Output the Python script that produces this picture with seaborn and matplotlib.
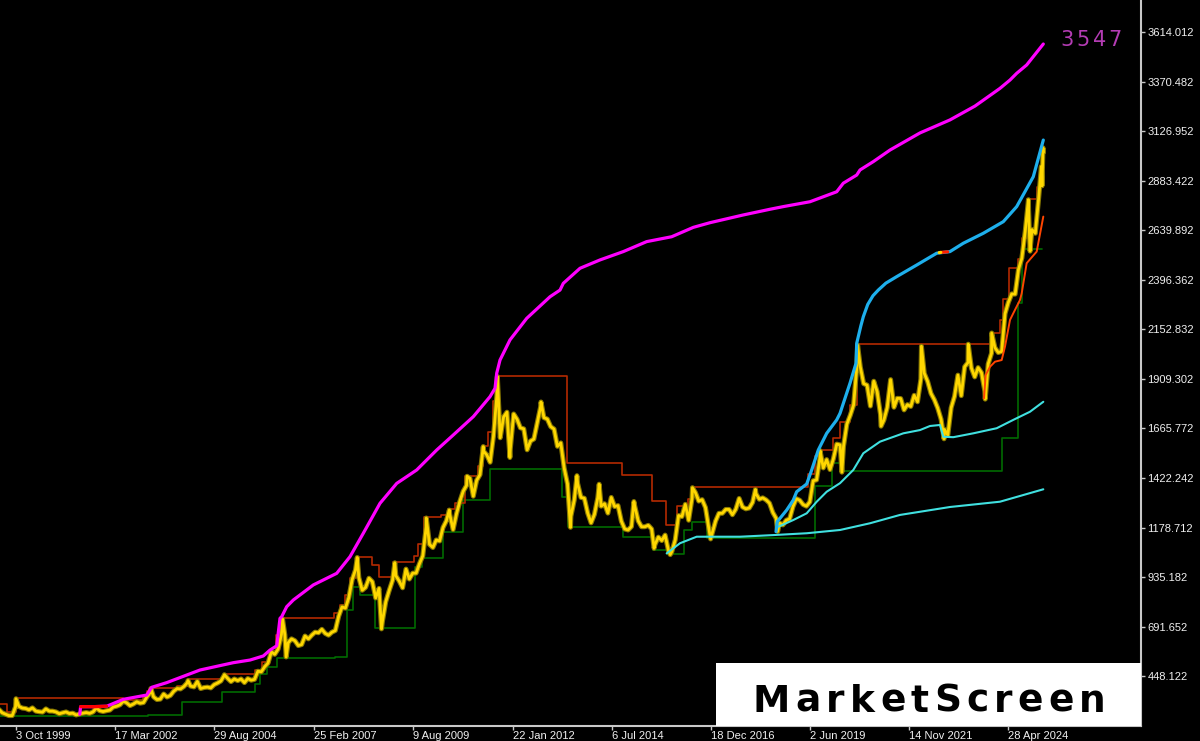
import numpy as np
import pandas as pd
import matplotlib
matplotlib.use("Agg")
import matplotlib.pyplot as plt
import seaborn as sns
from matplotlib.patches import Rectangle

# ---------------- data (decimal years / price) ----------------
# month-end closes of the yellow price series
close_years = list(range(1999, 2026))
first_month = {1999: 4}
closes = {
    1999: [286, 269, 262, 255, 255, 299, 300, 292, 290],
    2000: [283, 293, 277, 274, 272, 288, 277, 277, 273, 264, 269, 273],
    2001: [265, 267, 258, 263, 267, 270, 266, 273, 293, 279, 275, 279],
    2002: [282, 297, 301, 308, 326, 318, 304, 312, 323, 316, 319, 347],
    2003: [368, 347, 334, 336, 361, 346, 354, 375, 388, 386, 398, 416],
    2004: [400, 396, 423, 388, 393, 395, 391, 407, 415, 425, 453, 438],
    2005: [422, 435, 427, 435, 417, 437, 429, 433, 473, 470, 495, 513],
    2006: [568, 556, 582, 654, 653, 613, 632, 623, 599, 604, 646, 632],
    2007: [650, 665, 662, 679, 659, 650, 665, 673, 743, 789, 783, 834],
    2008: [923, 971, 933, 871, 885, 930, 913, 833, 880, 718, 815, 869],
    2009: [919, 942, 916, 883, 975, 926, 955, 955, 1001, 1040, 1182, 1096],
    2010: [1081, 1118, 1113, 1179, 1212, 1244, 1169, 1246, 1307, 1357, 1386, 1421],
    2011: [1333, 1411, 1439, 1556, 1536, 1500, 1628, 1826, 1620, 1722, 1746, 1565],
    2012: [1737, 1711, 1669, 1664, 1561, 1604, 1614, 1692, 1772, 1719, 1712, 1675],
    2013: [1663, 1578, 1595, 1472, 1393, 1234, 1314, 1396, 1327, 1323, 1250, 1202],
    2014: [1244, 1326, 1284, 1296, 1250, 1327, 1282, 1287, 1210, 1172, 1167, 1184],
    2015: [1283, 1212, 1183, 1183, 1190, 1172, 1096, 1132, 1115, 1142, 1065, 1061],
    2016: [1118, 1238, 1233, 1293, 1215, 1322, 1351, 1309, 1316, 1277, 1173, 1152],
    2017: [1211, 1249, 1249, 1268, 1268, 1242, 1269, 1322, 1280, 1271, 1275, 1303],
    2018: [1345, 1318, 1325, 1315, 1299, 1253, 1224, 1201, 1192, 1215, 1222, 1282],
    2019: [1321, 1313, 1292, 1284, 1305, 1409, 1413, 1520, 1472, 1513, 1464, 1517],
    2020: [1589, 1585, 1577, 1687, 1730, 1781, 1975, 1968, 1886, 1879, 1776, 1898],
    2021: [1847, 1734, 1707, 1769, 1906, 1770, 1814, 1813, 1757, 1783, 1774, 1829],
    2022: [1797, 1909, 1937, 1897, 1838, 1807, 1766, 1711, 1661, 1633, 1768, 1824],
    2023: [1928, 1827, 1969, 1990, 1963, 1919, 1965, 1940, 1849, 1983, 2036, 2063],
    2024: [2039, 2044, 2230, 2286, 2327, 2326, 2447, 2503, 2635, 2744, 2643, 2625],
    2025: [2798, 2858],
}
# intra-month extremes of the price
swing_x = [1999.76, 2003.10, 2004.02, 2004.92, 2006.36, 2006.45, 2008.21, 2008.81,
           2009.14, 2009.92, 2010.49, 2010.93, 2011.33, 2011.68, 2011.99, 2012.76,
           2013.49, 2013.65, 2014.20, 2015.06, 2015.56, 2015.96, 2016.51, 2016.96,
           2018.07, 2018.62, 2019.67, 2020.21, 2020.60, 2021.18, 2022.18, 2022.74,
           2023.34, 2023.76, 2023.92, 2024.83, 2024.87, 2025.15, 2025.19, 2025.198]
swing_v = [338, 388, 427, 456, 730, 543, 1032, 681,
           1006, 1226, 1265, 1431, 1577, 1921, 1523, 1796,
           1180, 1434, 1392, 1307, 1077, 1046, 1375, 1123,
           1366, 1160, 1557, 1451, 2075, 1677, 2070, 1615,
           2080, 1810, 2135, 2790, 2537, 2954, 3045, 3022]

# upper step line (red)
red_x = [1999.364, 1999.530, 1999.760, 2002.410, 2002.900, 2003.000, 2003.103, 2003.747,
         2004.019, 2004.861, 2004.935, 2005.678, 2005.852, 2006.050, 2006.198, 2006.339,
         2007.634, 2007.783, 2007.907, 2008.031, 2008.179, 2008.568, 2008.749, 2009.103,
         2009.615, 2009.714, 2009.863, 2010.277, 2010.457, 2010.630, 2010.878, 2011.200,
         2011.324, 2011.448, 2011.572, 2011.671, 2013.396, 2014.773, 2015.501, 2015.848,
         2016.120, 2016.400, 2016.491, 2019.379, 2019.550, 2019.668, 2019.990, 2020.164,
         2020.411, 2020.592, 2023.895, 2024.125, 2024.200, 2024.348, 2024.571, 2024.670,
         2024.786, 2025.034, 2025.198]
red_v = [312, 271, 341.5, 330, 350, 375, 392, 400,
         435, 440, 458, 480, 520, 570, 650, 733,
         760, 800, 847, 930, 1036, 995, 935, 1008,
         1040, 1100, 1229, 1240, 1269, 1300, 1431, 1480,
         1580, 1650, 1800, 1924, 1498, 1437, 1311, 1192,
         1285, 1320, 1380, 1440, 1530, 1560, 1620, 1700,
         1780, 2081, 2137, 2200, 2300, 2453, 2500, 2600,
         2792, 2850, 2850]

# lower step line (green)
green_x = [1999.364, 2003.036, 2003.863, 2004.854, 2005.678, 2005.802, 2005.968, 2006.216,
           2007.659, 2007.964, 2008.097, 2008.278, 2008.650, 2009.640, 2009.806, 2010.341,
           2010.836, 2011.497, 2013.273, 2013.436, 2014.798, 2015.526, 2015.887, 2016.301,
           2016.491, 2016.863, 2019.545, 2019.958, 2020.206, 2024.167, 2024.578, 2024.663,
           2025.158]
green_v = [253, 256, 320, 369.5, 410, 459, 494, 537,
           544, 774, 888, 848, 684, 987, 1028, 1159,
           1314, 1467, 1328, 1180, 1134, 1069, 1048, 1167,
           1205, 1126, 1383, 1495, 1457, 1618, 2281, 2546,
           2546]

# magenta curve
mag_x = [2001.340, 2001.360, 2001.674, 2002.006, 2002.417, 2002.997, 2003.120, 2003.492,
         2004.316, 2005.141, 2005.555, 2005.884, 2006.050, 2006.216, 2006.297, 2006.339,
         2006.463, 2006.627, 2007.122, 2007.701, 2008.031, 2008.360, 2008.773, 2009.187,
         2009.682, 2010.177, 2010.589, 2011.084, 2011.497, 2011.621, 2011.663, 2011.745,
         2011.992, 2012.406, 2012.983, 2013.231, 2013.312, 2013.726, 2014.221, 2014.798,
         2015.377, 2015.996, 2016.531, 2016.945, 2017.769, 2018.430, 2018.760, 2019.421,
         2020.082, 2020.245, 2020.577, 2020.659, 2020.988, 2021.402, 2022.144, 2022.887,
         2023.506, 2024.125, 2024.373, 2024.539, 2024.786, 2024.950, 2025.198]
mag_v = [262, 299, 299, 301, 335, 356, 394, 417,
         479, 515, 528, 548, 577, 598, 733, 741,
         790, 823, 897, 954, 1036, 1151, 1298, 1396,
         1462, 1560, 1634, 1724, 1822, 1863, 1937, 2002,
         2101, 2207, 2313, 2346, 2379, 2453, 2494, 2535,
         2584, 2608, 2654, 2677, 2715, 2743, 2756, 2780,
         2829, 2871, 2911, 2936, 2977, 3034, 3118, 3182,
         3250, 3337, 3378, 3411, 3452, 3493, 3555]
mag_red_x = [2001.360, 2001.674, 2002.006]
mag_red_v = [299, 299, 301]
mag_label = "3547"

# light-blue curve
blue_x = [2018.579, 2018.611, 2018.844, 2019.007, 2019.091, 2019.339, 2019.463, 2019.626,
          2019.834, 2020.082, 2020.164, 2020.411, 2020.560, 2020.577, 2020.680, 2020.741,
          2020.850, 2020.980, 2021.112, 2021.300, 2021.568, 2022.063, 2022.558, 2022.887,
          2023.217, 2023.712, 2024.207, 2024.539, 2024.950, 2025.198]
blue_v = [1159, 1208, 1265, 1314, 1355, 1393, 1462, 1560,
          1642, 1708, 1740, 1888, 1986, 2084, 2170, 2215,
          2275, 2318, 2346, 2380, 2412, 2469, 2527, 2535,
          2576, 2625, 2682, 2756, 2903, 3083]
blue_red_x = [2022.66, 2022.83]
blue_red_v = [2531, 2534]
blue_yel_x = [2022.62, 2022.66]
blue_yel_v = [2530, 2531]

# cyan curves
cyan_lo_x = [2015.872, 2016.202, 2016.615, 2017.687, 2018.512, 2019.339, 2020.164,
             2020.905, 2021.649, 2022.887, 2024.125, 2025.198]
cyan_lo_v = [1052, 1102, 1134, 1134, 1142, 1151, 1167, 1200, 1241, 1280, 1306, 1367]
cyan_hi_x = [2018.636, 2019.007, 2019.339, 2019.587, 2019.834, 2020.164, 2020.493, 2020.741,
             2021.154, 2021.731, 2022.144, 2022.392, 2022.640, 2022.721, 2022.969, 2023.464,
             2024.043, 2024.454, 2024.868, 2025.198]
cyan_hi_v = [1183, 1216, 1249, 1306, 1355, 1397, 1462, 1544,
             1601, 1642, 1658, 1678, 1683, 1625, 1623, 1642,
             1667, 1708, 1748, 1797]

# orange trailing curve
trail_x = [2023.729, 2023.771, 2023.878, 2024.002, 2024.167, 2024.249, 2024.373, 2024.455,
           2024.620, 2024.663, 2024.786, 2025.034, 2025.198]
trail_v = [1814, 1929, 1969, 1994, 2002, 2068, 2199, 2232, 2297, 2330, 2478, 2535, 2707]

# axis ticks
ytick_vals = [448.122, 691.652, 935.182, 1178.712, 1422.242, 1665.772, 1909.302,
              2152.832, 2396.362, 2639.892, 2883.422, 3126.952, 3370.482, 3614.012]
xtick_dates = ["1999-10-03", "2002-03-17", "2004-08-29", "2007-02-25", "2009-08-09",
               "2012-01-22", "2014-07-06", "2016-12-18", "2019-06-02", "2021-11-14",
               "2024-04-28"]
xtick_labels = ["3 Oct 1999", "17 Mar 2002", "29 Aug 2004", "25 Feb 2007", "9 Aug 2009",
                "22 Jan 2012", "6 Jul 2014", "18 Dec 2016", "2 Jun 2019", "14 Nov 2021",
                "28 Apr 2024"]
brand = "MarketScreen"

# ---------------- build price series ----------------
px, pv = [], []
for y in close_years:
    m0 = first_month.get(y, 1)
    for i, v in enumerate(closes[y]):
        px.append(y + (m0 + i) / 12.0)
        pv.append(v)
price = pd.DataFrame({"x": px + swing_x, "v": pv + swing_v}).sort_values("x")


def dec_year(s):
    t = pd.Timestamp(s)
    n = 366 if t.is_leap_year else 365
    return t.year + (t.dayofyear - 1) / n


# ---------------- figure ----------------
sns.set_style("dark", {"axes.facecolor": "black", "figure.facecolor": "black"})
plt.rcParams['font.family'] = ['Liberation Sans', 'DejaVu Sans']

W, H = 1200, 741
fig = plt.figure(figsize=(W / 100, H / 100), dpi=100, facecolor='black')
ax = fig.add_axes([0, 15 / H, 1141 / W, 726 / H])
ax.set_facecolor('black')


def line(x, y, color, lw, z, **kw):
    sns.lineplot(x=x, y=y, ax=ax, color=color, linewidth=lw, estimator=None,
                 sort=False, legend=False, zorder=z, **kw)


line(green_x, green_v, '#006A00', 1.2, 2, drawstyle='steps-post')
line(red_x, red_v, '#B42A00', 1.2, 2, drawstyle='steps-post')
line(list(price["x"]), list(price["v"]), '#8A7A00', 3.6, 3)
line(list(price["x"]), list(price["v"]), '#FFD700', 2.0, 3)
line(cyan_lo_x, cyan_lo_v, '#40E0E0', 1.5, 4)
line(cyan_hi_x, cyan_hi_v, '#40E0E0', 1.5, 4)
line(trail_x, trail_v, '#FF4500', 1.4, 4)
line(blue_x, blue_v, '#1EAFEC', 2.3, 5)
line(blue_red_x, blue_red_v, '#FF2000', 2.3, 6)
line(blue_yel_x, blue_yel_v, '#FFD500', 2.3, 6)
line(mag_x, mag_v, '#FF00FF', 2.3, 5)
line(mag_red_x, mag_red_v, '#FF0000', 2.3, 6)

ax.set_xlim(1999.364, 2027.617)
ax.set_ylim(203.9, 3771.2)
ax.grid(False)
ax.set_xlabel('')
ax.set_ylabel('')

for s in ['left', 'top']:
    ax.spines[s].set_visible(False)
for s in ['right', 'bottom']:
    ax.spines[s].set_visible(True)
    ax.spines[s].set_color('#C8C8C8')
    ax.spines[s].set_linewidth(1.5)

ax.yaxis.tick_right()
ax.set_yticks(ytick_vals)
ax.set_yticklabels([f"{v:.3f}" for v in ytick_vals])
ax.set_xticks([dec_year(d) for d in xtick_dates])
ax.set_xticklabels(xtick_labels)
for lbl in ax.get_xticklabels():
    lbl.set_ha('left')
ax.tick_params(axis='y', colors='#C8C8C8', labelcolor='#F0F0F0', length=3, width=1,
               pad=1.5, labelsize=8, right=True, left=False)
ax.tick_params(axis='x', colors='#C8C8C8', labelcolor='#F0F0F0', length=3, width=1,
               pad=0.5, labelsize=8, bottom=True)

# brand box
ax.add_patch(Rectangle((716 / 1141, 0), 1 - 716 / 1141, 63 / 726, transform=ax.transAxes,
                       facecolor='white', edgecolor='none', zorder=10, clip_on=False))

renderer = fig.canvas.get_renderer()


def spaced_text(s, cx, base_y, total_w, **kw):
    widths = []
    for ch in s:
        t = fig.text(0, 0, ch, **kw)
        widths.append(t.get_window_extent(renderer=renderer).width)
        t.remove()
    gap = (total_w - sum(widths)) / (len(s) - 1)
    xx = cx - total_w / 2
    for ch, w in zip(s, widths):
        fig.text((xx + w / 2) / W, 1 - base_y / H, ch, ha='center', va='baseline',
                 zorder=20, **kw)
        xx += w + gap


spaced_text(brand, 929.5, 712, 353, fontsize=27, fontweight='bold', color='black',
            family=['DejaVu Sans'])
spaced_text(mag_label, 1091, 46, 62, fontsize=15, color='#B43CB4', family=['DejaVu Sans'])

fig.savefig("out.png", dpi=100, facecolor='black')
